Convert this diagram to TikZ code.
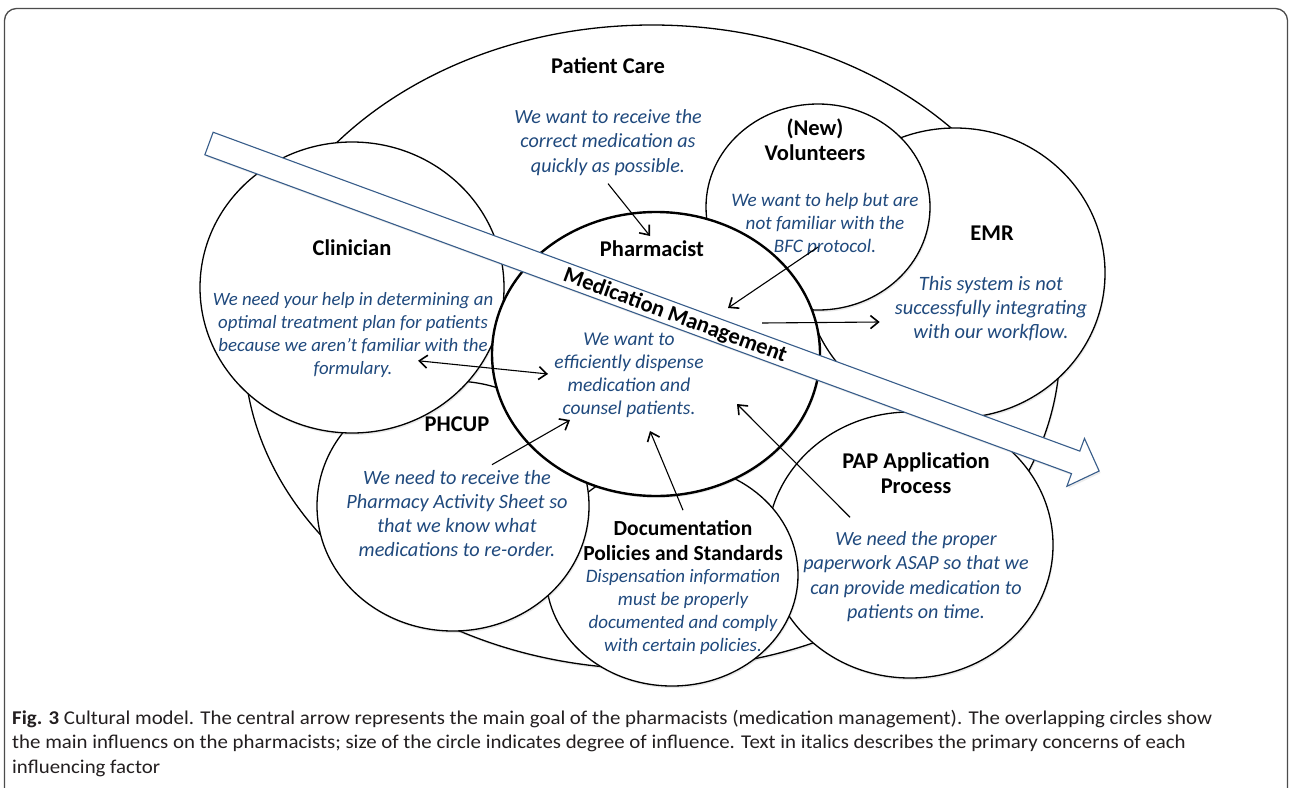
\documentclass[tikz,border=0pt]{standalone}
\usepackage{fontspec}
\setmainfont{Carlito}
\newfontfamily\captionfont[FakeStretch=1.07]{Carlito}
\usepackage{xcolor}
\usepackage{tikz}
\usetikzlibrary{arrows.meta, shadows}

\definecolor{concernblue}{RGB}{31,73,125}
\definecolor{goalblue}{RGB}{56,93,138}
\definecolor{captiongray}{RGB}{35,31,32}

\begin{document}
\begin{tikzpicture}[x=1pt, y=-1pt,
        >={Straight Barb[length=8pt, width=13pt, line width=1.6pt]},
        bubble/.style={draw=black, line width=1.3pt, fill=white,
                drop shadow={shadow xshift=1pt, shadow yshift=-2pt, opacity=0.18}},
        core/.style={bubble, line width=2.4pt},
        headline/.style={inner sep=0pt, align=center, font=\fontsize{#1}{25}\selectfont\bfseries},
        headline/.default=22.5,
        concern/.style 2 args={inner sep=0pt, align=center, text=concernblue,
                font=\fontsize{#1}{#2}\selectfont\itshape},
        pointer/.style={->, line width=1.1pt}]
        \useasboundingbox (0,0) rectangle (1292,787);
        \clip (0,0) rectangle (1292,787);
        \fill[white] (0,0) rectangle (1292,787);
        \draw[line width=1.3pt, draw=black!70, rounded corners=12pt] (4.5,8.5) rectangle (1287.5,830);

        % circles, back to front
        \draw[bubble] (652,347) ellipse [x radius=408, y radius=322];
        \draw[bubble] (955,273) ellipse [x radius=150, y radius=145];
        \draw[bubble] (818,207) ellipse [x radius=112, y radius=103];
        \draw[bubble] (910,545) ellipse [x radius=143, y radius=133];
        \draw[bubble] (672,575) ellipse [x radius=126, y radius=111];
        \draw[bubble] (453,506) ellipse [x radius=136, y radius=125];
        \draw[bubble] (352,287.5) ellipse [x radius=152, y radius=145.5];
        \draw[core] (656,354) ellipse [x radius=164, y radius=142];

        % main goal arrow
        \begin{scope}[shift={(209,143.5)}, rotate=-20.2]
                \draw[goalblue, line width=1.1pt, fill=white,
                        drop shadow={shadow xshift=1.5pt, shadow yshift=-2pt, opacity=0.15}]
                        (0,-12) -- (923.5,-12) -- (923.5,-25.5) -- (948.5,0)
                        -- (923.5,25.5) -- (923.5,12) -- (0,12) -- cycle;
        \end{scope}
        \node[headline, rotate=-20.2] (goal) at (675,316) {Medication Management};

        \node[headline] (careTitle) at (608,66) {Patient Care};
        \node[concern={20.1}{24.3}] (careTxt) at (608,142.5) {We want to receive the\\correct medication as\\quickly as possible.};
        \node[headline] (volTitle) at (815,139.5) {(New)\\Volunteers};
        \node[concern={19.1}{22.7}] (volTxt) at (825,224.5) {We want to help but are\\not familiar with the\\BFC protocol.};
        \node[headline] (emrTitle) at (992,233) {EMR};
        \node[concern={20.4}{24}] (emrTxt) at (991,309) {This system is not\\successfully integrating\\with our workflow.};
        \node[headline] (pharmTitle) at (652,249) {Pharmacist};
        \node[concern={19.5}{23}] (pharmTxt) at (629,375.5) {We want to\\efficiently dispense\\medication and\\counsel patients.};
        \node[headline] (clinTitle) at (352,248) {Clinician};
        \node[concern={18.8}{23}] (clinTxt) at (353,334.5) {We need your help in determining an\\optimal treatment plan for patients\\because we aren’t familiar with the\\formulary.};
        \node[headline] (phcupTitle) at (457,424) {PHCUP};
        \node[concern={20.3}{24}] (phcupTxt) at (457,514) {We need to receive the\\Pharmacy Activity Sheet so\\that we know what\\medications to re-order.};
        \node[headline=21.5] (docTitle) at (683,540.5) {Documentation\\Policies and Standards};
        \node[concern={19}{23}] (docTxt) at (683,611.5) {Dispensation information\\must be properly\\documented and comply\\with certain policies.};
        \node[headline] (papTitle) at (916,473.5) {PAP Application\\Process};
        \node[concern={20.1}{24.3}] (papTxt) at (916,576.5) {We need the proper\\paperwork ASAP so that we\\can provide medication to\\patients on time.};

        \coordinate (careTip) at (650,236);
        \coordinate (volTip) at (728,308);
        \coordinate (emrFrom) at (762,323);
        \coordinate (clinTip) at (548,374);
        \coordinate (phcupTip) at (570,420);
        \coordinate (docTip) at (650,431);
        \coordinate (papTip) at (737,404);

        \draw[pointer] ([shift={(0,8)}]careTxt.south) -- (careTip);
        \draw[pointer] ([shift={(-7,-8.5)}]volTxt.south) -- (volTip);
        \draw[pointer] (emrFrom) -- ([shift={(-15,13)}]emrTxt.west);
        \draw[pointer, <->] ([shift={(65,-16.5)}]clinTxt.south) -- (clinTip);
        \draw[pointer] ([shift={(35,-6)}]phcupTxt.north) -- (phcupTip);
        \draw[pointer] ([shift={(0,-10)}]docTitle.north) -- (docTip);
        \draw[pointer] ([shift={(-66,-14)}]papTxt.north) -- (papTip);

        \node[anchor=north west, inner sep=0pt, align=left, text=captiongray,
                font=\captionfont\fontsize{19.5}{24.5}\selectfont] (caption) at (12,710)
                {\textbf{Fig. 3} Cultural model. The central arrow represents the main goal of the pharmacists (medication management). The overlapping circles show\\
                the main influencs on the pharmacists; size of the circle indicates degree of influence. Text in italics describes the primary concerns of each\\
                influencing factor};
\end{tikzpicture}
\end{document}
